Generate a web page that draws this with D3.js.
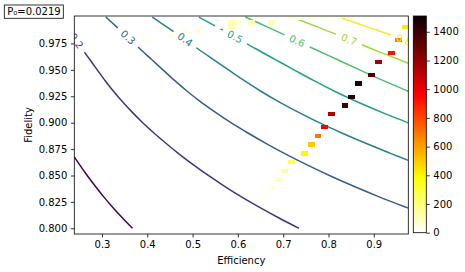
<!DOCTYPE html>
<html><head><meta charset="utf-8">
<script src="https://cdn.jsdelivr.net/npm/d3@7"></script>
<style>body{margin:0;background:#fff}svg{display:block;font-family:"DejaVu Sans",sans-serif}</style>
</head><body><svg id="chart" width="465" height="272"></svg>
<script>
// ---------- data ----------
const contourLevels = [0.1, 0.2, 0.3, 0.4, 0.5, 0.6, 0.7, 0.8];
const contour01 = [[0.3674,0.80],[0.3448,0.81],[0.3235,0.82],[0.3035,0.83],[0.2849,0.84],[0.2674,0.85],[0.2509,0.86],[0.2389,0.8677]];
const contour02 = [[0.7348,0.80],[0.6897,0.81],[0.6470,0.82],[0.6070,0.83],[0.5698,0.84],[0.5348,0.85],[0.5019,0.86],[0.4711,0.87],[0.4425,0.88],[0.4154,0.89],[0.3899,0.90],[0.3666,0.91],[0.3448,0.92],[0.3249,0.93],[0.3067,0.94],[0.2896,0.95],[0.2727,0.96],[0.2558,0.97],[0.2395,0.98],[0.2389,0.9803]];
const contour03 = [[0.9762,0.8191],[0.9706,0.82],[0.9105,0.83],[0.8547,0.84],[0.8021,0.85],[0.7528,0.86],[0.7067,0.87],[0.6637,0.88],[0.6231,0.89],[0.5848,0.90],[0.5500,0.91],[0.5172,0.92],[0.4874,0.93],[0.4601,0.94],[0.4345,0.95],[0.4090,0.96],[0.3836,0.97],[0.3593,0.98],[0.3341,0.99],[0.3083,1.00]];
const contour04 = [[0.9762,0.8643],[0.9423,0.87],[0.8850,0.88],[0.8307,0.89],[0.7797,0.90],[0.7333,0.91],[0.6897,0.92],[0.6499,0.93],[0.6135,0.94],[0.5793,0.95],[0.5453,0.96],[0.5115,0.97],[0.4790,0.98],[0.4454,0.99],[0.4111,1.00]];
const contour05 = [[0.9762,0.8997],[0.9747,0.90],[0.9166,0.91],[0.8621,0.92],[0.8123,0.93],[0.7669,0.94],[0.7241,0.95],[0.6817,0.96],[0.6394,0.97],[0.5988,0.98],[0.5568,0.99],[0.5139,1.00]];
const contour06 = [[0.9762,0.9297],[0.9748,0.93],[0.9202,0.94],[0.8689,0.95],[0.8180,0.96],[0.7673,0.97],[0.7186,0.98],[0.6682,0.99],[0.6166,1.00]];
const contour07 = [[0.9762,0.9562],[0.9543,0.96],[0.8951,0.97],[0.8383,0.98],[0.7795,0.99],[0.7194,1.00]];
const contour08 = [[0.9762,0.9771],[0.9581,0.98],[0.8909,0.99],[0.8222,1.00]];

const labelLevels = [0.2, 0.3, 0.4, 0.5, 0.6, 0.7, 0.8];
const labelEff = [0.2437, 0.3574, 0.4832, 0.5936, 0.7305, 0.8453, 0.9667];
const labelFid = [0.9775, 0.9807, 0.9786, 0.9812, 0.9773, 0.9787, 0.9786];

const cellEff = [0.9689,0.9541,0.9394,0.9099,0.8952,0.8657,0.8509,0.8362,0.8067,0.7919,0.7772,0.7624,0.7477,0.7182,0.7034,0.6887,0.6739,0.6592,0.6297,
                 0.3937,0.4085,0.4527,0.4822,0.5117,0.5559,0.5854,0.5854,0.6002,0.6297,0.6739,0.7182,0.7329,0.7624,0.7919,0.8214,0.8509,0.8804,0.8952];
const cellFid = [0.9907,0.9783,0.9659,0.9577,0.9453,0.9370,0.9246,0.9164,0.9081,0.8957,0.8875,0.8792,0.8709,0.8627,0.8544,0.8462,0.8379,0.8297,0.8173,
                 0.9783,0.9783,0.9824,0.9866,0.9866,0.9907,0.9907,0.9948,0.9948,0.9948,0.9948,0.9989,0.9989,0.9989,0.9989,0.9989,0.9989,0.9989,0.9989];
const cellCount = [430,670,920,1160,1370,1480,1460,1400,1140,970,690,500,400,240,140,95,50,30,12,
                   25,20,30,60,70,30,110,120,70,110,100,60,40,45,45,40,40,35,25];

const xTicks = [0.3,0.4,0.5,0.6,0.7,0.8,0.9];
const yTicks = [0.800,0.825,0.850,0.875,0.900,0.925,0.950,0.975];
const cbTicks = [0,200,400,600,800,1000,1200,1400];
const countMax = 1510;
const annotation = "P₀=0.0219";

// ---------- layout ----------
const L = 74.3, R = 408.3, T = 16, B = 234;
const binW = (0.9762-0.2389)/50, binH = (1.001-0.7946)/50;
const svg = d3.select("#chart");
const x = d3.scaleLinear().domain([0.2389,0.9762]).range([L,R]);
const y = d3.scaleLinear().domain([0.7946,1.001]).range([B,T]);

function hot(v){
  const c = t => Math.max(0, Math.min(1, t));
  const r = c(0.0416 + (1-0.0416)*v/0.365079);
  const g = c((v-0.365079)/(0.746032-0.365079));
  const b = c((v-0.746032)/(1-0.746032));
  return d3.rgb(r*255, g*255, b*255).formatHex();
}
const hotR = t => hot(1 - Math.max(0, Math.min(1, t)));

const defs = svg.append("defs");
defs.append("clipPath").attr("id","plotclip").append("rect")
  .attr("x",L).attr("y",T).attr("width",R-L).attr("height",B-T);

const contours = [contour01,contour02,contour03,contour04,contour05,contour06,contour07,contour08];
const color = k => d3.interpolateViridis(k/(contourLevels.length-1));
const line = d3.line().x(d=>x(d[0])).y(d=>y(d[1])).curve(d3.curveCatmullRom.alpha(0.5));

const mask = defs.append("mask").attr("id","lblmask").attr("maskUnits","userSpaceOnUse")
  .attr("x",0).attr("y",0).attr("width",465).attr("height",272);
mask.append("rect").attr("x",0).attr("y",0).attr("width",465).attr("height",272).attr("fill","#fff");

function angleAt(pts, px, py){
  let best=1e9, ang=0;
  for(let i=0;i<pts.length-1;i++){
    const x1=x(pts[i][0]), y1=y(pts[i][1]), x2=x(pts[i+1][0]), y2=y(pts[i+1][1]);
    const dx=x2-x1, dy=y2-y1; const len2=dx*dx+dy*dy;
    if(len2<1e-6) continue;
    let t=((px-x1)*dx+(py-y1)*dy)/len2; t=Math.max(0,Math.min(1,t));
    const qx=x1+t*dx, qy=y1+t*dy; const d=Math.hypot(px-qx,py-qy);
    if(d<best){best=d; ang=Math.atan2(dy,dx)*180/Math.PI;}
  }
  if(ang>90) ang-=180; if(ang<-90) ang+=180;
  return ang;
}

const plotG = svg.append("g").attr("clip-path","url(#plotclip)");
const lineG = plotG.append("g").attr("mask","url(#lblmask)");
contours.forEach((pts,k)=>{
  lineG.append("path").attr("d",line(pts)).attr("fill","none")
    .attr("stroke",color(k)).attr("stroke-width",1.5);
});

const labelG = plotG.append("g");
labelLevels.forEach((lv,i)=>{
  const k = contourLevels.indexOf(lv);
  const px = x(labelEff[i]), py = y(labelFid[i]);
  const ang = angleAt(contours[k], px, py);
  const t = labelG.append("text").attr("transform",`translate(${px},${py}) rotate(${ang})`)
    .attr("text-anchor","middle").attr("dominant-baseline","central")
    .attr("font-size","10px").attr("fill",color(k)).text(d3.format(".1f")(lv));
  const w = t.node().getComputedTextLength();
  mask.append("rect").attr("transform",`translate(${px},${py}) rotate(${ang})`)
    .attr("x",-(w/2+6)).attr("y",-7).attr("width",w+12).attr("height",14).attr("fill","#000");
});

// histogram cells (drawn on top of lines)
const cellG = plotG.append("g").attr("shape-rendering","crispEdges");
cellEff.forEach((e,i)=>{
  const x0 = x(e-binW/2), x1 = x(e+binW/2), y0 = y(cellFid[i]+binH/2), y1 = y(cellFid[i]-binH/2);
  cellG.append("rect").attr("x",x0).attr("y",y0).attr("width",x1-x0).attr("height",y1-y0)
    .attr("fill",hotR(cellCount[i]/countMax));
});
labelG.raise();

// axes
const xAxis = d3.axisBottom(x).tickValues(xTicks).tickSize(3.5).tickPadding(3.5).tickFormat(d3.format(".1f"));
const yAxis = d3.axisLeft(y).tickValues(yTicks).tickSize(3.5).tickPadding(3.5).tickFormat(d3.format(".3f"));
const gx = svg.append("g").attr("transform",`translate(0,${B})`).call(xAxis);
const gy = svg.append("g").attr("transform",`translate(${L},0)`).call(yAxis);
[gx,gy].forEach(g=>{
  g.select(".domain").remove();
  g.selectAll("line").attr("stroke","#000").attr("stroke-width",0.8);
  g.selectAll("text").attr("font-size","10px").attr("fill","#000").attr("font-family","DejaVu Sans");
});
svg.append("rect").attr("x",L).attr("y",T).attr("width",R-L).attr("height",B-T)
  .attr("fill","none").attr("stroke","#000").attr("stroke-width",0.8);

svg.append("text").attr("x",(L+R)/2).attr("y",263.5).attr("text-anchor","middle")
  .attr("font-size","10px").text("Efficiency");
svg.append("text").attr("transform",`translate(32,${(T+B)/2}) rotate(-90)`).attr("text-anchor","middle")
  .attr("font-size","10px").text("Fidelity");

// annotation box
const ann = svg.append("g");
ann.append("rect").attr("x",4.3).attr("y",5).attr("width",59).attr("height",13.3)
  .attr("fill","#fff").attr("stroke","#000").attr("stroke-width",0.8);
ann.append("text").attr("x",7.3).attr("y",15.2).attr("font-size","10px").text(annotation);

// colorbar
const cbL = 413.3, cbR = 426.3, cbT = 16, cbB = 232.7;
const cb = d3.scaleLinear().domain([0,countMax]).range([cbB,cbT]);
const grad = defs.append("linearGradient").attr("id","cbgrad").attr("x1",0).attr("y1",1).attr("x2",0).attr("y2",0);
d3.range(0,1.0001,0.01).forEach(t=>grad.append("stop").attr("offset",t).attr("stop-color",hotR(t)));
svg.append("rect").attr("x",cbL).attr("y",cbT).attr("width",cbR-cbL).attr("height",cbB-cbT).attr("fill","url(#cbgrad)");
svg.append("rect").attr("x",cbL).attr("y",cbT).attr("width",cbR-cbL).attr("height",cbB-cbT)
  .attr("fill","none").attr("stroke","#000").attr("stroke-width",0.8);
const gcb = svg.append("g").attr("transform",`translate(${cbR},0)`)
  .call(d3.axisRight(cb).tickValues(cbTicks).tickSize(3.5).tickPadding(3.5).tickFormat(d3.format("d")));
gcb.select(".domain").remove();
gcb.selectAll("line").attr("stroke","#000").attr("stroke-width",0.8);
gcb.selectAll("text").attr("font-size","10px").attr("fill","#000").attr("font-family","DejaVu Sans");
</script></body></html>
